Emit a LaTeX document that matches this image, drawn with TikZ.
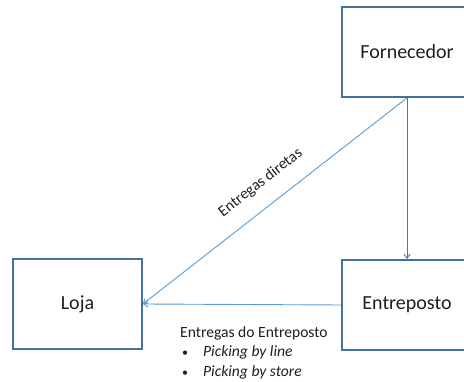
\documentclass[tikz,border=0pt]{standalone}
\usepackage{fontspec}
\setmainfont{Carlito}
\usetikzlibrary{arrows.meta}
\definecolor{boxline}{HTML}{41719C}
\definecolor{linkblue}{HTML}{5B9BD5}
\definecolor{linkdark}{HTML}{4472C4}
\definecolor{ink}{HTML}{1F1F1F}
\newcommand{\smallbullet}{\hspace*{2pt}{\fontsize{12}{12}\selectfont\textbullet}\hspace{15pt}}
\tikzset{
  site/.style={draw=boxline, line width=1.8pt, fill=white, minimum width=130pt,
    minimum height=90pt, inner sep=0pt, text=ink, font=\fontsize{20}{24}\selectfont},
  flow/.style={draw=linkblue, line width=0.9pt, -{Straight Barb[angle=70:5pt]}},
  flowdark/.style={draw=linkdark, line width=0.9pt, -{Straight Barb[angle=70:5pt]}},
  note/.style={text=ink, font=\fontsize{15.6}{19.5}\selectfont}
}
\begin{document}
\begin{tikzpicture}[x=1pt,y=1pt]
  \useasboundingbox (0,0) rectangle (464,382);
  \clip (0,0) rectangle (464,382);
  \fill[white] (0,0) rectangle (464,382);
  % the three sites
  \node[site] (forn) at (407,330) {Fornecedor};
  \node[site] (entr) at (407,77) {Entreposto};
  \node[site, minimum width=129pt] (loja) at (77.5,78) {Loja};
  % deliveries
  \draw[flow] (forn.south) -- (loja.east)
    node[note, sloped, pos=0.5, above=16pt, inner sep=0pt] {Entregas diretas};
  \draw[flowdark] (forn.south) -- (entr.north);
  \draw[flow] (entr.west) -- (loja.east);
  % note below the warehouse route
  \node[note, anchor=north west, align=left, inner sep=0pt] (deliv) at (180,56)
    {Entregas do Entreposto\\
     \smallbullet\textit{Picking by line}\\
     \smallbullet\textit{Picking by store}};
\end{tikzpicture}
\end{document}
